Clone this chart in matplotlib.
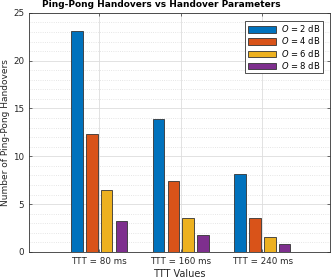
import numpy as np
import matplotlib.pyplot as plt
from matplotlib.ticker import MultipleLocator

ttt_labels = ["TTT = 80 ms", "TTT = 160 ms", "TTT = 240 ms"]
offsets = ["2", "4", "6", "8"]
o2 = [23.1, 13.9, 8.15]
o4 = [12.3, 7.45, 3.5]
o6 = [6.5, 3.55, 1.6]
o8 = [3.25, 1.75, 0.8]
colors = ["#0072BD", "#D95319", "#EDB120", "#7E2F8E"]

plt.rcParams['font.family'] = ['DejaVu Sans']
fig = plt.figure(figsize=(3.32, 2.79), dpi=100)
ax = fig.add_axes([0.0873, 0.097, 0.907, 0.857])

x = np.arange(1, 4)
w = 0.142
step = 0.182
for i, (vals, c, o) in enumerate(zip([o2, o4, o6, o8], colors, offsets)):
    ax.bar(x + (i - 1.5) * step, vals, width=w, color=c, edgecolor='#333333',
           linewidth=0.6, label=f"$O$ = {o} dB", zorder=3)

ax.set_xlim(0.14, 3.83)
ax.set_ylim(0, 25)
ax.set_xticks(x)
ax.set_xticklabels(ttt_labels)
ax.yaxis.set_major_locator(MultipleLocator(5))
ax.yaxis.set_minor_locator(MultipleLocator(1))
ax.grid(True, which='major', color='#dddddd', linewidth=0.6, zorder=0)
ax.grid(True, which='minor', axis='y', color='#dddddd', linestyle=':', linewidth=0.6, zorder=0)
ax.tick_params(axis='both', which='both', direction='in', labelsize=6.3, length=2, width=0.5,
               colors='#333333', labelcolor='#262626')
ax.tick_params(axis='y', which='minor', length=0)
ax.tick_params(top=True, right=True)
for s in ax.spines.values():
    s.set_linewidth(0.6)
    s.set_color('#333333')

ax.set_xlabel("TTT Values", fontsize=7, labelpad=2, color='#262626')
ax.set_ylabel("Number of Ping-Pong Handovers", fontsize=6.5, labelpad=2, color='#262626')
ax.set_title("Ping-Pong Handovers vs Handover Parameters", fontsize=6.5,
             fontweight='bold', pad=4, x=0.44)
leg = ax.legend(loc='upper right', bbox_to_anchor=(0.977, 0.967), fontsize=6,
                fancybox=False, framealpha=1, edgecolor='#333333',
                handlelength=3.4, handleheight=0.85, borderpad=0.3,
                labelspacing=0.15, handletextpad=0.6, borderaxespad=0)
leg.get_frame().set_linewidth(0.6)

fig.savefig("out.png", dpi=100)
